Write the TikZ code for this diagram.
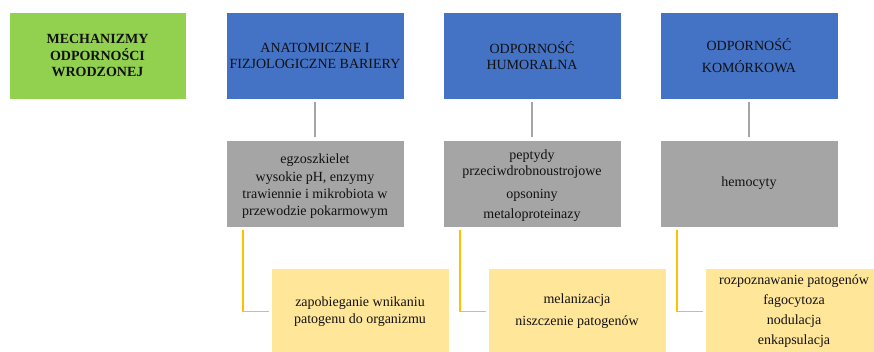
\documentclass[tikz,border=0pt]{standalone}
\usepackage{fontspec}
\setmainfont{Liberation Serif}
\definecolor{hdrgreen}{HTML}{92D050}
\definecolor{hdrblue}{HTML}{4472C4}
\definecolor{midgray}{HTML}{A5A5A5}
\definecolor{lightyellow}{HTML}{FFE699}
\definecolor{linegold}{HTML}{FFC000}
\definecolor{txt}{HTML}{111111}
\begin{document}
\begin{tikzpicture}[x=1pt,y=-1pt,
 box/.style={rectangle, draw=white, line width=0.6pt, minimum width=178pt, minimum height=87pt, inner sep=0pt, align=center, font=\fontsize{14}{16}\selectfont, text=txt},
 greenbox/.style={box, fill=hdrgreen, minimum width=177pt, font=\bfseries\fontsize{14}{16.5}\selectfont},
 bluebox/.style={box, fill=hdrblue},
 graybox/.style={box, fill=midgray},
 yellowbox/.style={box, fill=lightyellow},
 grayline/.style={draw=midgray, line width=1.6pt, shorten <=3pt, shorten >=3pt},
 yline/.style={draw=linegold, line width=1.6pt},
]
\useasboundingbox (0,0) rectangle (874,351);
\clip (0,0) rectangle (874,351);
\node[greenbox] (root) at (97.5,55.5) {MECHANIZMY\\ODPORNOŚCI\\WRODZONEJ};
\node[bluebox] (b1) at (315,55.5) {ANATOMICZNE I\\FIZJOLOGICZNE BARIERY};
\node[bluebox] (b2) at (532,55.5) {ODPORNOŚĆ\\HUMORALNA};
\node[bluebox] (b3) at (749,55.5) {ODPORNOŚĆ\\[6pt]KOMÓRKOWA};
\node[graybox, font=\fontsize{14}{17}\selectfont] (g1) at (315,183.5) {\rule{0pt}{15pt}egzoszkielet\\[1pt]wysokie pH, enzymy\\trawiennie i mikrobiota w\\przewodzie pokarmowym};
\node[graybox] (g2) at (532,183.5) {\rule{0pt}{15pt}peptydy\\przeciwdrobnoustrojowe\\[7pt]opsoniny\\[4pt]metaloproteinazy};
\node[graybox] (g3) at (749,183.5) {hemocyty};
\node[yellowbox, font=\fontsize{14}{17}\selectfont] (y1) at (360,311.5) {zapobieganie wnikaniu\\patogenu do organizmu};
\node[yellowbox] (y2) at (577,311.5) {melanizacja\\[6pt]niszczenie patogenów};
\node[yellowbox] (y3) at (794,311.5) {rozpoznawanie patogenów\\[4pt]fagocytoza\\[4pt]nodulacja\\[4pt]enkapsulacja};
\draw[grayline] (b1.south) -- (g1.north);
\draw[grayline] (b2.south) -- (g2.north);
\draw[grayline] (b3.south) -- (g3.north);
\draw[yline] ([xshift=17pt,yshift=-3pt]g1.south west) |- ([xshift=-2pt]y1.west);
\draw[yline] ([xshift=17pt,yshift=-3pt]g2.south west) |- ([xshift=-2pt]y2.west);
\draw[yline] ([xshift=17pt,yshift=-3pt]g3.south west) |- ([xshift=-2pt]y3.west);
\end{tikzpicture}
\end{document}
